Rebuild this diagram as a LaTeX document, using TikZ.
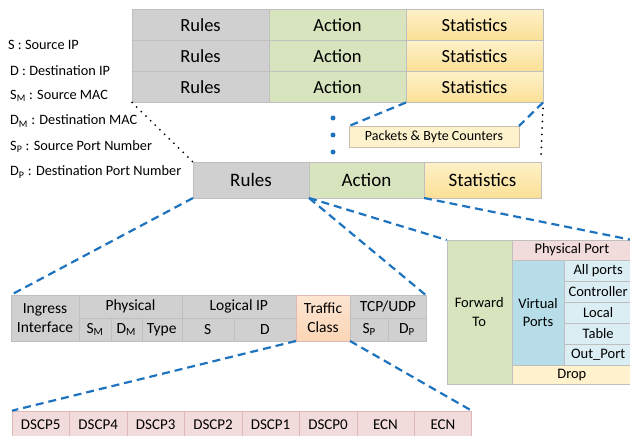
\documentclass[tikz,border=0pt]{standalone}
\usepackage{fontspec}
\setmainfont{Carlito}
\usetikzlibrary{positioning}
\definecolor{cellgray}{RGB}{208,208,208}
\definecolor{actgreen}{RGB}{215,228,189}
\definecolor{stattop}{RGB}{254,241,200}
\definecolor{statbot}{RGB}{251,224,150}
\definecolor{pktfill}{RGB}{253,242,204}
\definecolor{tcpeach}{RGB}{251,213,181}
\definecolor{dscppink}{RGB}{242,220,219}
\definecolor{vpblue}{RGB}{183,222,232}
\definecolor{subblue}{RGB}{219,238,244}
\definecolor{dropyel}{RGB}{255,242,204}
\definecolor{zoomblue}{RGB}{30,115,190}

\begin{document}
\begin{tikzpicture}[x=1pt, y=-1pt,
node distance = 0pt and 0pt,
cell/.style={rectangle, draw=gray!50, outer sep=0pt, inner sep=1pt, align=center},
rules/.style={cell, fill=cellgray, minimum width=137pt, minimum height=31pt, font=\fontsize{18.5}{20}\selectfont},
act/.style={rules, fill=actgreen},
stat/.style={rules, top color=stattop, bottom color=statbot},
fld/.style={cell, fill=cellgray, font=\fontsize{15.5}{19}\selectfont},
dscp/.style={cell, fill=dscppink, draw=gray!60!red!40, minimum width=57.46pt, minimum height=27pt, font=\fontsize{15}{17}\selectfont},
fwd/.style={cell, font=\fontsize{14.5}{18.5}\selectfont},
sub/.style={fwd, fill=subblue, minimum width=67.7pt, minimum height=21pt},
leg/.style={anchor=west, inner sep=0pt, font=\fontsize{14.3}{16}\selectfont},
zoomline/.style={zoomblue, line width=2.2pt, dash pattern=on 8pt off 5pt},
blkdot/.style={black, line width=2pt, line cap=round, dash pattern=on 0pt off 6.5pt},
bdot/.style={circle, fill=zoomblue, inner sep=0pt, minimum size=5pt}]

\useasboundingbox (0,0) rectangle (630,436);

\node[rules, anchor=north west] (r1) at (132,9.5) {Rules};
\node[act, right=of r1] (a1) {Action};
\node[stat, right=of a1] (s1) {Statistics};
\node[rules, below=of r1] (r2) {Rules};
\node[act, right=of r2] (a2) {Action};
\node[stat, right=of a2] (s2) {Statistics};
\node[rules, below=of r2] (r3) {Rules};
\node[act, right=of r3] (a3) {Action};
\node[stat, right=of a3] (s3) {Statistics};

\node[leg] (l1) at (8,45) {S : Source IP};
\node[leg] (l2) at (10,70.5) {D : Destination IP};
\node[leg] (l3) at (10,96) {S\textsubscript{M} : Source MAC};
\node[leg] (l4) at (10,121) {D\textsubscript{M} : Destination MAC};
\node[leg] (l5) at (10,146.5) {S\textsubscript{P} : Source Port Number};
\node[leg] (l6) at (10,172) {D\textsubscript{P} : Destination Port Number};

\node[bdot] (v1) at (333,118) {};
\node[bdot] (v2) at (333,135) {};
\node[bdot] (v3) at (333,152) {};
\node[cell, fill=pktfill, draw=gray!60!brown!50, minimum width=170pt, minimum height=21pt, font=\fontsize{14}{16}\selectfont, anchor=north west] (pbc) at (349,126) {Packets \& Byte Counters};

\node[rules, minimum width=116pt, minimum height=36pt, font=\fontsize{19}{20}\selectfont, anchor=north west] (mr) at (193,162) {Rules};
\node[act, minimum width=115pt, minimum height=36pt, font=\fontsize{19}{20}\selectfont, right=of mr] (ma) {Action};
\node[stat, minimum width=117pt, minimum height=36pt, font=\fontsize{19}{20}\selectfont, right=of ma] (ms) {Statistics};

\node[fld, minimum width=68.6pt, minimum height=46pt, anchor=north west] (ing) at (10.7,295) {Ingress\\Interface};
\node[fld, minimum width=102.4pt, minimum height=23pt, anchor=north west] (phy) at (ing.north east) {Physical};
\node[fld, minimum width=31.4pt, minimum height=23pt, anchor=north west] (sm) at (phy.south west) {S\textsubscript{M}};
\node[fld, minimum width=31pt, minimum height=23pt, right=of sm] (dm) {D\textsubscript{M}};
\node[fld, minimum width=40pt, minimum height=23pt, right=of dm] (typ) {Type};
\node[fld, minimum width=114.3pt, minimum height=23pt, anchor=north west] (lip) at (phy.north east) {Logical IP};
\node[fld, minimum width=52pt, minimum height=23pt, anchor=north west] (sip) at (lip.south west) {S};
\node[fld, minimum width=62.3pt, minimum height=23pt, right=of sip] (dip) {D};
\node[fld, top color=tcpeach!60, bottom color=tcpeach, draw=gray!60!red!40, minimum width=54pt, minimum height=46pt, anchor=north west] (tc) at (lip.north east) {Traffic\\Class};
\node[fld, minimum width=75.7pt, minimum height=23pt, anchor=north west] (tcp) at (tc.north east) {TCP/UDP};
\node[fld, minimum width=38.3pt, minimum height=23pt, anchor=north west] (sp) at (tcp.south west) {S\textsubscript{P}};
\node[fld, minimum width=37.4pt, minimum height=23pt, right=of sp] (dp) {D\textsubscript{P}};

\node[fwd, fill=actgreen, minimum width=65pt, minimum height=144pt, anchor=north west] (fw) at (446.7,240) {Forward\\To};
\node[fwd, fill=dscppink, minimum width=120.3pt, minimum height=20pt, anchor=north west] (pp) at (fw.north east) {Physical Port};
\node[fwd, fill=vpblue, minimum width=52.6pt, minimum height=105pt, anchor=north west] (vp) at (pp.south west) {Virtual\\Ports};
\node[sub, anchor=north west] (allp) at (vp.north east) {All ports};
\node[sub, below=of allp] (ctl) {Controller};
\node[sub, below=of ctl] (loc) {Local};
\node[sub, below=of loc] (tbl) {Table};
\node[sub, below=of tbl] (outp) {Out\_Port};
\node[fwd, fill=dropyel, minimum width=120.3pt, minimum height=19.3pt, anchor=north west] (drp) at (vp.south west) {Drop};

\node[dscp, anchor=north west] (d5) at (12,410.7) {DSCP5};
\node[dscp, right=of d5] (d4) {DSCP4};
\node[dscp, right=of d4] (d3) {DSCP3};
\node[dscp, right=of d3] (d2) {DSCP2};
\node[dscp, right=of d2] (d1) {DSCP1};
\node[dscp, right=of d1] (d0) {DSCP0};
\node[dscp, right=of d0] (e1) {ECN};
\node[dscp, right=of e1] (e0) {ECN};

\draw[blkdot] (r3.south west) -- (mr.north west);
\draw[blkdot] ([yshift=-6pt]s3.south east) -- ([yshift=7pt]ms.north east);

\draw[zoomline] (a3.south east) -- (pbc.north west);
\draw[zoomline] (s3.south east) -- (pbc.north east);
\draw[zoomline] (mr.south west) -- (ing.north west);
\draw[zoomline] (ma.south west) -- (tcp.north east);
\draw[zoomline] (ma.south west) -- (fw.north west);
\draw[zoomline] (ma.south east) -- (pp.north east);
\draw[zoomline] (tc.south west) -- (d5.north west);
\draw[zoomline] (tc.south east) -- (e0.north east);
\end{tikzpicture}
\end{document}
